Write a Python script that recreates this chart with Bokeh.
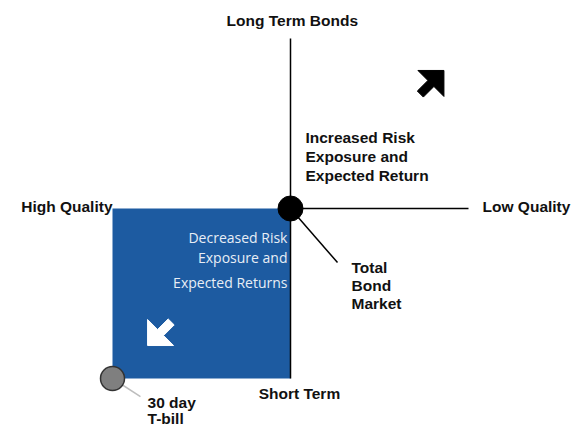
import numpy as np
from bokeh.plotting import figure
from bokeh.models import Range1d, ColumnDataSource
from bokeh.core.properties import value
from bokeh.embed import file_html
from bokeh.resources import INLINE

# ---- data (conceptual units: x = credit quality, y = term) ----
axis_labels = ["Long Term Bonds", "High Quality", "Low Quality", "Short Term"]
axis_label_x = [0.01, -1.0, 1.079, 0.05]
axis_label_y = [1.105, 0.01, 0.01, -1.088]
axis_label_align = ["center", "right", "left", "center"]

upper_lines = ["Increased Risk", "Exposure and", "Expected Return"]
upper_x = [0.084, 0.084, 0.084]
upper_y = [0.418, 0.306, 0.197]

lower_lines = ["Decreased Risk", "Exposure and", "Expected Returns"]
lower_x = [-0.017, -0.017, -0.017]
lower_y = [-0.171, -0.288, -0.435]

market_lines = ["Total", "Bond", "Market"]
market_x = [0.343, 0.343, 0.343]
market_y = [-0.347, -0.453, -0.559]

tbill_lines = ["30 day", "T-bill"]
tbill_x = [-0.803, -0.803]
tbill_y = [-1.141, -1.235]

points_name = ["Total Bond Market", "30 day T-bill"]
points_x = [0.0, -1.0]
points_y = [0.0, -1.0]

leader_end_x = [0.264, -0.843]
leader_end_y = [-0.318, -1.106]

arrow_tip_x = [0.862, -0.803]
arrow_tip_y = [0.812, -0.806]
arrow_dir = [45, 225]

W, H = 572, 427
PX_X = 178.0   # pixels per unit horizontally
PX_Y = 170.0   # pixels per unit vertically
CX, CY = 290, 208  # pixel position of the origin

p = figure(width=W, height=H, output_backend="svg", toolbar_location=None,
           x_range=Range1d(-CX / PX_X, (W - CX) / PX_X),
           y_range=Range1d((CY - H) / PX_Y, CY / PX_Y),
           min_border=0, background_fill_color="white", border_fill_color="white")
p.axis.visible = False
p.grid.visible = False
p.outline_line_color = None

# blue quadrant
p.quad(left=[points_x[1]], right=[points_x[0]], bottom=[points_y[1]], top=[points_y[0]],
       fill_color="#1d5ba1", line_color=None)

# axes lines
p.segment(x0=[0, 0], y0=[-1, 0], x1=[0, 1], y1=[1, 0], line_color="black", line_width=1.5)

# leader lines
p.segment(x0=[points_x[0]], y0=[points_y[0]], x1=[leader_end_x[0]], y1=[leader_end_y[0]],
          line_color="black", line_width=1.5)
p.segment(x0=[points_x[1]], y0=[points_y[1]], x1=[leader_end_x[1]], y1=[leader_end_y[1]],
          line_color="#bdbdbd", line_width=1.5)

# points
p.scatter(x=[points_x[0]], y=[points_y[0]], size=25, fill_color="black", line_color="black")
p.scatter(x=[points_x[1]], y=[points_y[1]], size=24, fill_color="#7f7f7f",
          line_color="#333333", line_width=1.5)


def arrow_shape(tx, ty, ang_deg, side=26.0, shaft_w=8.5, shaft_len=15.0):
    a = np.deg2rad(ang_deg)
    u = np.array([np.cos(a), np.sin(a)])       # direction (up positive)
    n = np.array([-u[1], u[0]])
    h = side / np.sqrt(2)
    loc = [(0, 0), (-h, h), (-h, shaft_w / 2), (-h - shaft_len, shaft_w / 2),
           (-h - shaft_len, -shaft_w / 2), (-h, -shaft_w / 2), (-h, -h)]
    xs, ys = [], []
    for a_, b_ in loc:
        v = a_ * u + b_ * n
        xs.append(tx + v[0] / PX_X)
        ys.append(ty + v[1] / PX_Y)
    return xs, ys


ax0, ay0 = arrow_shape(arrow_tip_x[0], arrow_tip_y[0], arrow_dir[0])
ax1, ay1 = arrow_shape(arrow_tip_x[1], arrow_tip_y[1], arrow_dir[1])
p.patch(ax0, ay0, fill_color="black", line_color="black", line_width=1)
p.patch(ax1, ay1, fill_color="white", line_color="white", line_width=1)

bold = dict(text_font=value("Liberation Sans"), text_font_style="bold",
            text_font_size="15.5px", text_color="#111111", text_baseline="middle")

src_axis = ColumnDataSource(dict(x=axis_label_x, y=axis_label_y, t=axis_labels, a=axis_label_align))
p.text(x="x", y="y", text="t", text_align="a", source=src_axis, **bold)

p.text(x=upper_x, y=upper_y, text=upper_lines, text_align="left", **bold)
p.text(x=market_x, y=market_y, text=market_lines, text_align="left", **bold)
p.text(x=tbill_x, y=tbill_y, text=tbill_lines, text_align="left", **bold)

p.text(x=lower_x, y=lower_y, text=lower_lines, text_align="right", text_baseline="middle",
       text_font=value("Open Sans"), text_font_size="14px", text_color="#e8eef6")

open("out.html", "w").write(file_html(p, INLINE))
